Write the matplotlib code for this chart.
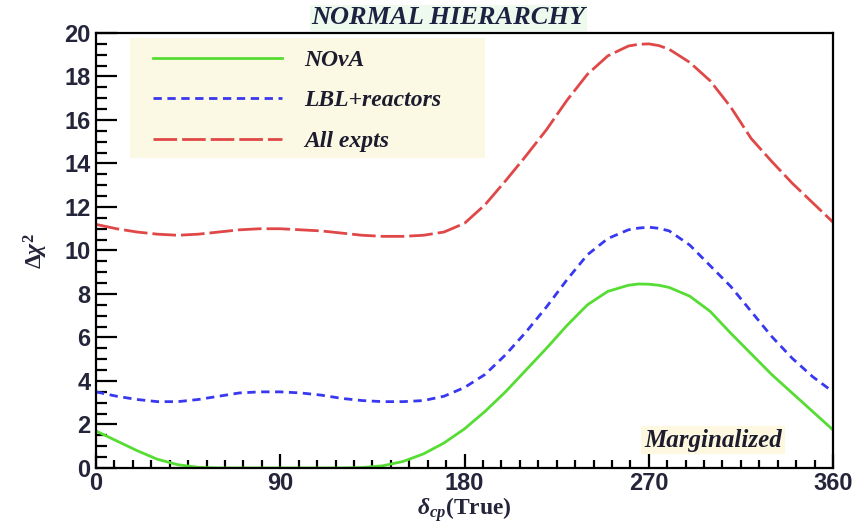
import matplotlib
matplotlib.use("Agg")
import matplotlib.pyplot as plt
from matplotlib.ticker import MultipleLocator
from matplotlib.patches import Rectangle

plt.rcParams["mathtext.fontset"] = "custom"
plt.rcParams["mathtext.rm"] = "Liberation Serif:bold"
plt.rcParams["mathtext.it"] = "Liberation Serif:italic:bold"
plt.rcParams["mathtext.bf"] = "Liberation Serif:bold"

delta = [0, 10, 20, 30, 40, 50, 60, 70, 80, 90, 100, 110, 120, 130, 140, 150, 160,
         170, 180, 190, 200, 210, 220, 230, 240, 250, 260, 265, 270, 275, 280, 290,
         300, 310, 320, 330, 340, 350, 360]
nova = [1.7, 1.25, 0.8, 0.4, 0.15, 0.03, 0.0, 0.0, 0.0, 0.0, 0.0, 0.0, 0.0, 0.02,
        0.1, 0.3, 0.65, 1.15, 1.8, 2.6, 3.5, 4.5, 5.5, 6.55, 7.5, 8.12, 8.4, 8.46,
        8.45, 8.4, 8.3, 7.9, 7.2, 6.2, 5.25, 4.3, 3.45, 2.6, 1.75]
lbl_reac = [3.5, 3.3, 3.15, 3.05, 3.05, 3.15, 3.3, 3.45, 3.5, 3.5, 3.45, 3.35, 3.2,
            3.1, 3.05, 3.05, 3.1, 3.3, 3.7, 4.3, 5.2, 6.25, 7.4, 8.65, 9.8, 10.55,
            10.95, 11.03, 11.07, 11.02, 10.9, 10.25, 9.3, 8.35, 7.2, 6.05, 5.05,
            4.2, 3.5]
all_expts = [11.2, 11.0, 10.85, 10.75, 10.7, 10.75, 10.85, 10.95, 11.0, 11.0, 10.95,
             10.9, 10.8, 10.7, 10.65, 10.65, 10.7, 10.85, 11.25, 12.1, 13.2, 14.35,
             15.55, 16.9, 18.1, 18.95, 19.4, 19.48, 19.5, 19.42, 19.25, 18.65, 17.8,
             16.6, 15.15, 14.1, 13.1, 12.2, 11.3]
labels = ["NO\u03bdA", "LBL+reactors", "All expts"]
xticks = [0, 90, 180, 270, 360]
yticks = [0, 2, 4, 6, 8, 10, 12, 14, 16, 18, 20]

fig = plt.figure(figsize=(8.58, 5.23), dpi=100)
ax = fig.add_axes([0.1119, 0.1052, 0.859, 0.8317])

ax.plot(delta, nova, color="#55dd33", lw=2.0, label=labels[0])
ax.plot(delta, lbl_reac, color="#3838f0", lw=2.0, dashes=(3.0, 2.0), label=labels[1])
ax.plot(delta, all_expts, color="#e04848", lw=2.0, dashes=(8.5, 1.8), label=labels[2])

ax.set_xlim(0, 360)
ax.set_ylim(0, 20)
ax.set_xticks(xticks)
ax.set_yticks(yticks)
ax.xaxis.set_minor_locator(MultipleLocator(9))
ax.yaxis.set_minor_locator(MultipleLocator(0.5))
ax.tick_params(which="both", direction="in", width=1.6, top=False, right=False,
               colors="black")
ax.tick_params(axis="y", which="major", length=15, pad=4)
ax.tick_params(axis="y", which="minor", length=8)
ax.tick_params(axis="x", which="major", length=10, pad=3)
ax.tick_params(axis="x", which="minor", length=6)
for lab in ax.get_xticklabels() + ax.get_yticklabels():
    lab.set_fontfamily("Liberation Sans")
    lab.set_fontweight("bold")
    lab.set_fontsize(17)
    lab.set_color("#24243a")
for sp in ax.spines.values():
    sp.set_linewidth(1.6)

# legend background box
ax.add_patch(Rectangle((0.0461, 0.7126), 0.4817, 0.2759, transform=ax.transAxes,
                       facecolor="#fbf9e3", edgecolor="none", zorder=2.5))
leg = ax.legend(loc="upper left", bbox_to_anchor=(0.0773, 0.962), frameon=False,
                handlelength=5.45, handletextpad=0.97,
                labelspacing=0.8, borderpad=0, borderaxespad=0,
                prop={"family": "Liberation Serif", "weight": "bold",
                      "style": "italic", "size": 17})
leg.set_zorder(3)
for t in leg.get_texts():
    t.set_color("#1c1c2e")

fig.text(0.523, 0.966, "NORMAL HIERARCHY", ha="center", va="center",
         fontfamily="Liberation Serif", fontweight="bold", fontstyle="italic",
         fontsize=19, color="#1c2340",
         bbox=dict(facecolor="#eefaee", edgecolor="none", pad=1))

ax.text(0.837, 0.064, "Marginalized", transform=ax.transAxes, ha="center",
        va="center", fontfamily="Liberation Serif", fontweight="bold",
        fontstyle="italic", fontsize=18, color="#1c1c2e",
        bbox=dict(facecolor="#fdf8df", edgecolor="none", pad=2))

ax.set_xlabel(r"$\delta_{cp}$(True)", fontfamily="Liberation Serif",
              fontweight="bold", fontsize=17, color="#24243a", labelpad=0)
ax.set_ylabel(r"$\Delta\chi^2$", fontsize=17, color="#24243a", labelpad=10)

fig.savefig("out.png", dpi=100)
